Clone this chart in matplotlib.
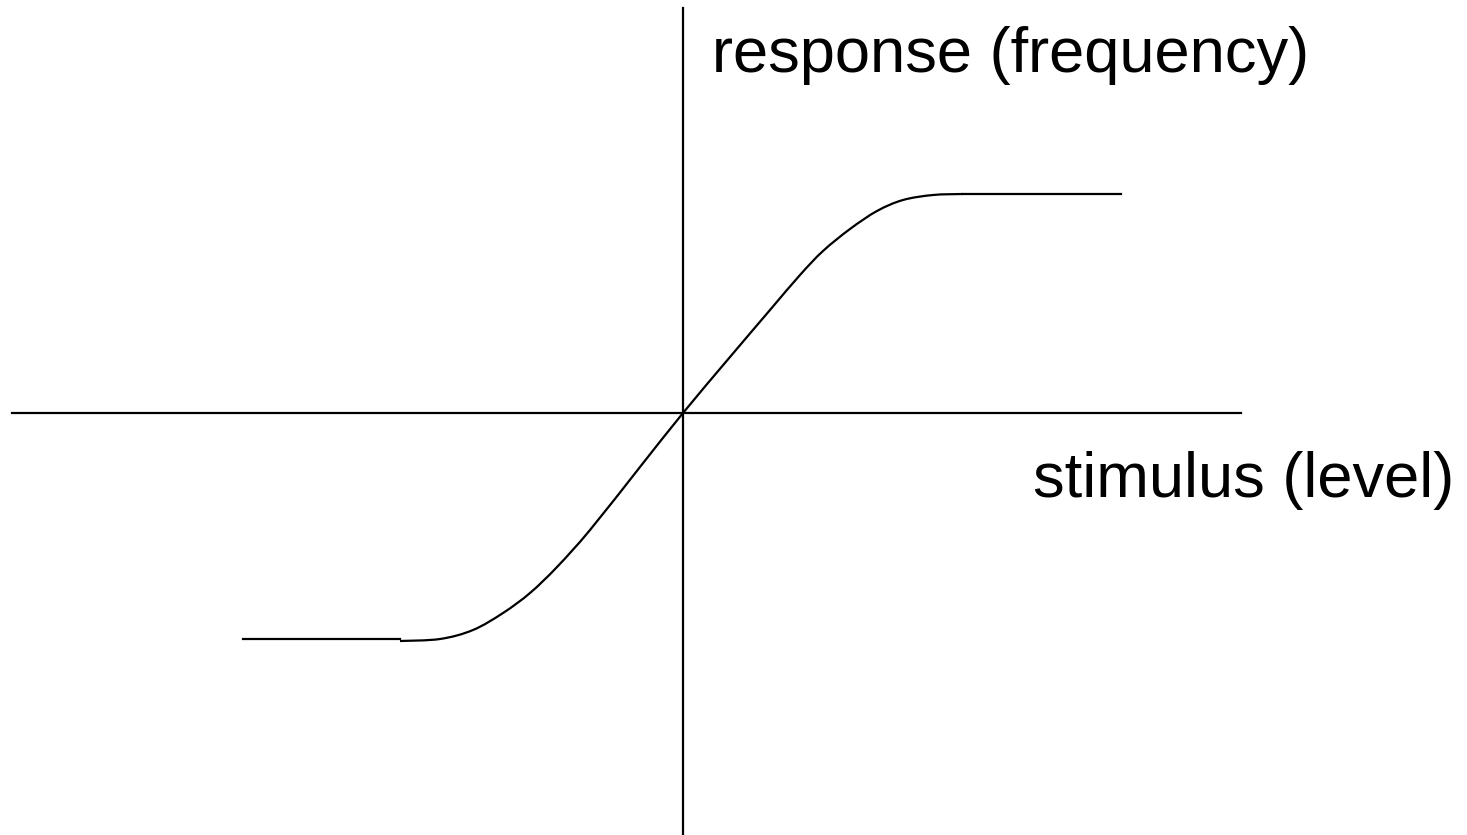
import matplotlib
matplotlib.use('Agg')
import matplotlib.pyplot as plt
from matplotlib.path import Path
from matplotlib.patches import PathPatch

# curve (origin where the axes cross)
stimulus = [-2.83, -2.43, -2.10, -1.80, -1.53, -1.26, -0.93, -0.43, 0.0,
            0.47, 0.87, 1.17, 1.40, 1.67, 1.94, 2.20, 2.50, 2.80]
response = [-2.28, -2.26, -2.17, -2.00, -1.80, -1.54, -1.17, -0.54, 0.0,
            0.56, 1.03, 1.38, 1.62, 1.84, 2.02, 2.13, 2.18, 2.19]

# flat parts at both ends
low_x = [-4.40, -2.83]
low_y = [-2.26, -2.26]
high_x = [2.80, 4.38]
high_y = [2.19, 2.19]


# smooth bezier path through the read points (catmull-rom style handles)
def smooth_path(xs, ys):
    pts = list(zip(xs, ys))
    verts = [pts[0]]
    codes = [Path.MOVETO]
    n = len(pts)
    for i in range(n - 1):
        p0 = pts[i - 1] if i > 0 else pts[i]
        p1 = pts[i]
        p2 = pts[i + 1]
        p3 = pts[i + 2] if i + 2 < n else pts[i + 1]
        c1 = (p1[0] + (p2[0] - p0[0]) / 6, p1[1] + (p2[1] - p0[1]) / 6)
        c2 = (p2[0] - (p3[0] - p1[0]) / 6, p2[1] - (p3[1] - p1[1]) / 6)
        verts += [c1, c2, p2]
        codes += [Path.CURVE4] * 3
    return Path(verts, codes)


plt.rcParams['font.family'] = ['Liberation Sans', 'DejaVu Sans']

fig = plt.figure(figsize=(14.67, 8.35), dpi=100)
ax = fig.add_axes([0, 0, 1, 1])
ax.set_xlim(-6.83, 7.84)
ax.set_ylim(-4.22, 4.13)
ax.axis('off')

# axes drawn by hand
ax.plot([0, 0], [-4.22, 4.05], color='black', lw=1.6)
ax.plot([-6.71, 5.58], [0, 0], color='black', lw=1.6)

ax.add_patch(PathPatch(smooth_path(stimulus, response), facecolor='none',
                       edgecolor='black', lw=1.6))
ax.plot(low_x, low_y, color='black', lw=1.6)
ax.plot(high_x, high_y, color='black', lw=1.6)

ax.text(0.29, 3.41, 'response (frequency)', fontsize=45.5, ha='left', va='baseline')
ax.text(3.50, -0.84, 'stimulus (level)', fontsize=45.5, ha='left', va='baseline')

fig.savefig('out.png', dpi=100)
